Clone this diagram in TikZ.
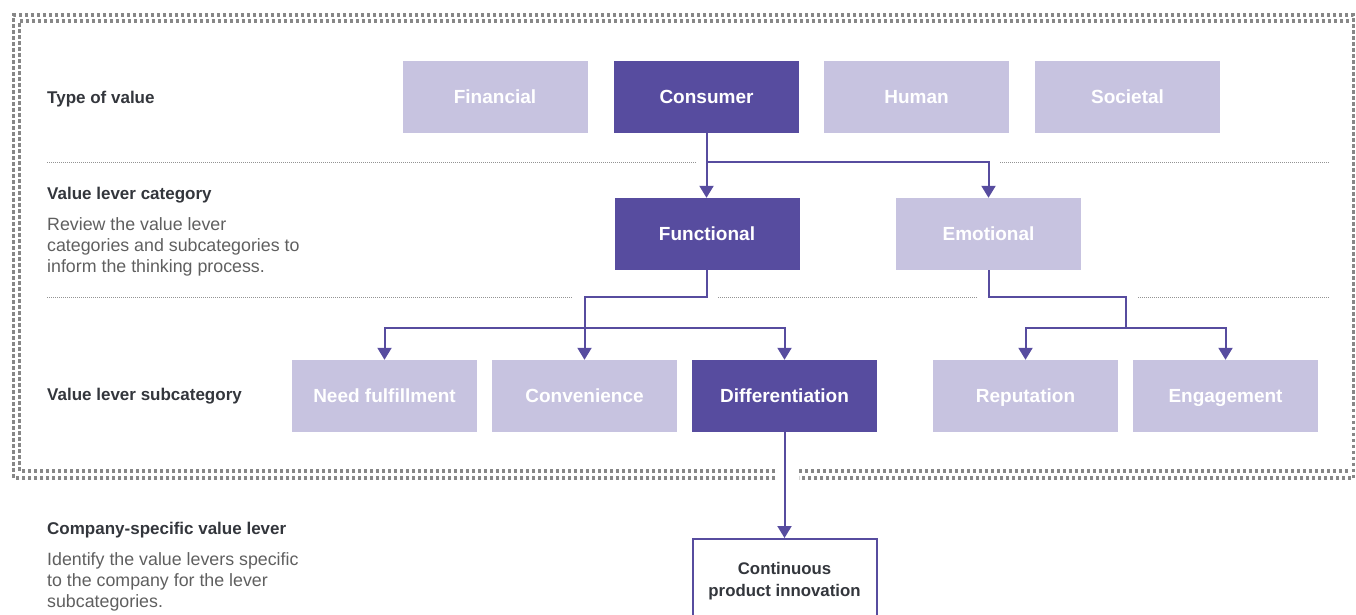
\documentclass[tikz,border=0pt]{standalone}
\usepackage{fontspec}
\setmainfont{Liberation Sans}
\usetikzlibrary{arrows.meta}
\definecolor{lvdark}{RGB}{87,76,159}
\definecolor{lvlight}{RGB}{199,195,224}
\definecolor{lvgray}{RGB}{135,135,135}
\definecolor{lvtext}{RGB}{51,54,60}
\definecolor{lvdesc}{RGB}{95,95,95}

\begin{document}
\begin{tikzpicture}[x=1pt,y=-1pt,
    box/.style={minimum width=185pt, minimum height=72pt, inner sep=0pt,
      text height=13.6pt, text depth=0pt, text=white,
      font=\fontsize{19}{22}\selectfont\bfseries},
    light/.style={box, fill=lvlight},
    dark/.style={box, fill=lvdark},
    lvl/.style={anchor=base west, inner sep=0pt, text=lvtext,
      font=\fontsize{17}{21}\selectfont\bfseries},
    desc/.style={anchor=north west, inner sep=0pt, align=left, text=lvdesc,
      font=\fontsize{17.8}{21}\selectfont},
    link/.style={draw=lvdark, line width=2pt},
    arr/.style={link, -{Triangle[width=14pt,length=12pt]}},
    sep/.style={draw=lvgray!90, line width=0.8pt, dash pattern=on 1pt off 1pt},
    border/.style={draw=lvgray, line width=3.3pt, dash pattern=on 3.3pt off 2.7pt}]
  \useasboundingbox (0,0) rectangle (1356,614);

  % frame
  \draw[border] (775,478) -| (13.5,15) -| (1353.5,478) -- (799,478);
  \draw[border] (775,471) -| (19.5,21) -- (1350,21);
  \draw[border] (799,471) -- (1350,471);

  % separators
  \draw[sep] (47,162) -- (697,162) (1000,162) -- (1330,162);
  \draw[sep] (47,297) -- (572,297) (718,297) -- (978,297) (1138,297) -- (1330,297);

  % row labels
  \node[lvl] (tv) at (47,103) {Type of value};
  \node[lvl] (vc) at (47,199) {Value lever category};
  \node[desc] (vcd) at (47,217) {Review the value lever\\categories and subcategories to\\inform the thinking process.};
  \node[lvl] (vs) at (47,400) {Value lever subcategory};
  \node[lvl] (cs) at (47,534) {Company-specific value lever};
  \node[desc] (csd) at (47,552) {Identify the value levers specific\\to the company for the lever\\subcategories.};

  % type of value
  \foreach \nm/\lab/\x/\sty in {fin/Financial/495/light, con/Consumer/706.5/dark,
      hum/Human/916.5/light, soc/Societal/1127.5/light}
    \node[\sty] (\nm) at (\x,97) {\lab};

  % value lever category
  \node[dark] (fun) at (707,234) {Functional};
  \node[light] (emo) at (988.5,234) {Emotional};

  % value lever subcategory
  \foreach \nm/\lab/\x/\sty in {need/Need fulfillment/384.5/light, conv/Convenience/584.5/light,
      diff/Differentiation/784.5/dark, rep/Reputation/1025.5/light, eng/Engagement/1225.5/light}
    \node[\sty] (\nm) at (\x,396) {\lab};

  % company-specific lever
  \node[draw=lvdark, line width=2pt, fill=white, anchor=north, minimum width=184pt,
    minimum height=84pt, inner sep=0pt, align=center, text=lvtext,
    font=\fontsize{16.8}{22}\selectfont\bfseries] (cpi) at (784.5,538)
    {Continuous\\product innovation};

  % connectors
  \coordinate (cbar) at (706.5,162);
  \draw[arr] (con.south) -- (cbar) -| (emo.north);
  \draw[arr] (cbar) -- (cbar |- fun.north);

  \coordinate (fknee) at (584.5,297);
  \coordinate (fbar) at (584.5,328);
  \draw[link] (fun.south) |- (fknee) -- (fbar);
  \draw[arr] (fbar) -| (need.north);
  \draw[arr] (fbar) -| (diff.north);
  \draw[arr] (fbar) -- (conv.north);

  \coordinate (eknee) at (1125.5,297);
  \coordinate (ebar) at (1125.5,328);
  \draw[link] (emo.south) |- (eknee) -- (ebar);
  \draw[arr] (ebar) -| (rep.north);
  \draw[arr] (ebar) -| (eng.north);

  \draw[arr] (diff.south) -- (cpi.north);
\end{tikzpicture}
\end{document}
